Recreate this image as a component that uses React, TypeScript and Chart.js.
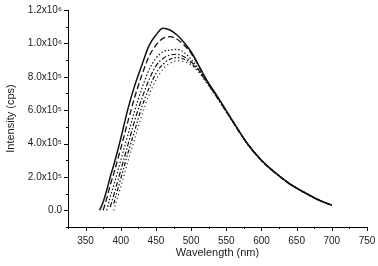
import React, { useEffect, useRef } from "react";
import { Chart, registerables } from "chart.js";

Chart.register(...registerables);

// Wavelength grid (nm)
const wavelengths = [370, 375, 380, 385, 390, 400, 410, 420, 430, 440, 450, 460, 470, 480, 490, 500, 510, 520, 540, 560, 580, 600, 620, 640, 660, 680, 700];

// Intensities in units of 10^6 cps
const series1 = [0.0, 0.05, 0.12, 0.2, 0.27, 0.43, 0.605, 0.75, 0.87, 0.985, 1.05, 1.09, 1.08, 1.05, 1.005, 0.95, 0.875, 0.795, 0.665, 0.53, 0.4, 0.3, 0.225, 0.16, 0.11, 0.065, 0.03];
const series2 = [null, 0.0, 0.07, 0.15, 0.22, 0.37, 0.53, 0.68, 0.81, 0.92, 0.99, 1.03, 1.04, 1.025, 0.99, 0.94, 0.872, 0.795, 0.662, 0.527, 0.398, 0.298, 0.223, 0.158, 0.108, 0.064, 0.03];
const series3 = [null, null, 0.0, 0.08, 0.15, 0.3, 0.45, 0.6, 0.73, 0.84, 0.91, 0.95, 0.96, 0.965, 0.945, 0.905, 0.855, 0.79, 0.66, 0.528, 0.4, 0.3, 0.224, 0.16, 0.11, 0.065, 0.03];
const series4 = [null, null, null, 0.02, 0.09, 0.24, 0.39, 0.54, 0.67, 0.78, 0.865, 0.91, 0.93, 0.935, 0.92, 0.89, 0.845, 0.785, 0.658, 0.526, 0.398, 0.298, 0.222, 0.158, 0.109, 0.064, 0.03];
const series5 = [null, null, null, null, 0.04, 0.19, 0.34, 0.48, 0.62, 0.73, 0.82, 0.875, 0.905, 0.915, 0.905, 0.88, 0.84, 0.78, 0.656, 0.525, 0.398, 0.298, 0.222, 0.158, 0.108, 0.064, 0.03];
const series6 = [null, null, null, null, 0.0, 0.14, 0.29, 0.43, 0.57, 0.69, 0.78, 0.845, 0.88, 0.895, 0.89, 0.87, 0.83, 0.775, 0.654, 0.524, 0.397, 0.297, 0.221, 0.157, 0.107, 0.063, 0.03];

const seriesList = [series1, series2, series3, series4, series5, series6];
const dashes: number[][] = [[], [6, 3], [1.5, 2], [5, 2, 1.5, 2], [4, 2, 1.5, 2, 1.5, 2], [1, 3]];
const widths = [1.5, 1.3, 1.2, 1.2, 1.2, 1.2];

const X_MIN = 325;
const X_MAX = 750;
const Y_MIN = -0.1;
const Y_MAX = 1.2;

const SUP: Record<string, string> = { "5": "\u2075", "6": "\u2076" };

function yLabel(v: number): string {
  const n = Math.round(v * 10);
  if (n < 0 || n % 2 !== 0) return "";
  if (n === 0) return "0.0";
  if (n < 10) return `${n}.0x10${SUP["5"]}`;
  return `${(n / 10).toFixed(1)}x10${SUP["6"]}`;
}

const tickPlugin = {
  id: "minorTicks",
  afterDraw(chart: any) {
    const { ctx, scales } = chart;
    const x = scales.x;
    const y = scales.y;
    ctx.save();
    ctx.strokeStyle = "#000";
    ctx.lineWidth = 1;
    ctx.beginPath();
    x.ticks.forEach((t: any) => {
      const px = Math.round(x.getPixelForValue(t.value)) + 0.5;
      const major = Math.round(t.value) % 50 === 0;
      const len = major ? 4 : 2;
      ctx.moveTo(px, y.bottom);
      ctx.lineTo(px, y.bottom + len);
    });
    y.ticks.forEach((t: any) => {
      const py = Math.round(y.getPixelForValue(t.value)) + 0.5;
      const major = Math.round(t.value * 10) % 2 === 0;
      const len = major ? 4 : 2;
      ctx.moveTo(x.left, py);
      ctx.lineTo(x.left - len, py);
    });
    ctx.stroke();
    ctx.restore();
  },
};

export default function App() {
  const ref = useRef<HTMLCanvasElement | null>(null);

  useEffect(() => {
    if (!ref.current) return;
    const chart = new Chart(ref.current, {
      type: "line",
      data: {
        datasets: seriesList.map((s, i) => ({
          label: `S${i + 1}`,
          data: wavelengths.map((w, j) => ({ x: w, y: s[j] as any })),
          borderColor: "#111",
          borderWidth: widths[i],
          borderDash: dashes[i],
          pointRadius: 0,
          fill: false,
          tension: 0.4,
          cubicInterpolationMode: "monotone" as const,
          spanGaps: false,
        })),
      },
      plugins: [tickPlugin],
      options: {
        animation: false,
        responsive: true,
        maintainAspectRatio: false,
        layout: { padding: { top: 10, right: 11, left: 0, bottom: 0 } },
        plugins: {
          legend: { display: false },
          tooltip: { enabled: false },
        },
        scales: {
          x: {
            type: "linear",
            min: X_MIN,
            max: X_MAX,
            grid: { display: false, drawTicks: false },
            border: { display: true, color: "#000", width: 1 },
            ticks: {
              stepSize: 25,
              autoSkip: false,
              maxRotation: 0,
              padding: 8,
              color: "#222",
              font: { family: "'Liberation Sans', Arial, sans-serif", size: 10 },
              callback: (v: any) => {
                const n = Math.round(Number(v));
                return n % 50 === 0 && n >= 350 ? String(n) : "";
              },
            },
            title: {
              display: true,
              text: "Wavelength (nm)",
              color: "#222",
              font: { family: "'Liberation Sans', Arial, sans-serif", size: 11 },
              padding: { top: 0, bottom: 6 },
            },
            afterFit: (scale: any) => {
              scale.height = 39;
              scale.paddingLeft = 0;
              scale.paddingRight = 0;
            },
          },
          y: {
            type: "linear",
            min: Y_MIN,
            max: Y_MAX,
            grid: { display: false, drawTicks: false },
            border: { display: true, color: "#000", width: 1 },
            ticks: {
              stepSize: 0.1,
              autoSkip: false,
              padding: 6,
              color: "#222",
              font: { family: "'Liberation Sans', Arial, sans-serif", size: 10 },
              callback: (v: any) => yLabel(Number(v)),
            },
            title: {
              display: true,
              text: "Intensity (cps)",
              color: "#222",
              font: { family: "'Liberation Sans', Arial, sans-serif", size: 11 },
              padding: { top: 4, bottom: 0 },
            },
            afterFit: (scale: any) => {
              scale.width = 68;
              scale.paddingTop = 0;
              scale.paddingBottom = 0;
            },
          },
        },
      },
    });
    return () => chart.destroy();
  }, []);

  return (
    <div style={{ position: "absolute", left: 0, top: 0, width: 378, height: 266, background: "#fff" }}>
      <canvas ref={ref} />
    </div>
  );
}
